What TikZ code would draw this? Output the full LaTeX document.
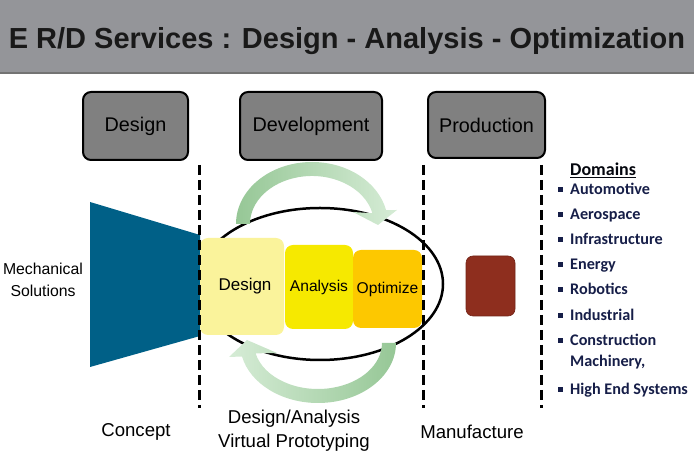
\documentclass[tikz,border=0pt]{standalone}
\usepackage{fontspec}
\setmainfont{Liberation Sans}
\newfontfamily\domfont{Carlito}
\usetikzlibrary{positioning}

\definecolor{barGray}{RGB}{148,149,153}
\definecolor{boxGray}{RGB}{128,128,128}
\definecolor{funnelBlue}{RGB}{0,96,135}
\definecolor{designYel}{RGB}{250,243,155}
\definecolor{analysisYel}{RGB}{246,233,0}
\definecolor{optimOrange}{RGB}{253,200,0}
\definecolor{mfgRed}{RGB}{142,46,30}
\definecolor{loopDark}{RGB}{150,199,150}
\definecolor{loopLight}{RGB}{214,236,214}
\definecolor{domNavy}{RGB}{22,30,72}

\tikzset{
  hdrbox/.style={draw=black, line width=2pt, fill=boxGray, rounded corners=8pt,
    minimum height=68pt, font=\fontsize{19.8}{22}\selectfont},
  stagebox/.style={rounded corners=8pt, inner sep=0pt},
  divider/.style={line width=3pt, dash pattern=on 10pt off 5pt},
  caption/.style={font=\fontsize{18.6}{24}\selectfont, align=center},
  domitem/.style={anchor=base west, inner sep=0pt, text=domNavy,
    font=\domfont\bfseries\fontsize{16.2}{18}\selectfont},
}

\begin{document}
\begin{tikzpicture}[x=1pt, y=1pt]
    \useasboundingbox (0,0) rectangle (694,463);

    % title bar
    \fill[barGray] (0,390) rectangle (694,463);
    \draw[black!55, line width=1.2pt] (0,390) -- (694,390);
    \node[font=\bfseries\fontsize{29}{34}\selectfont, text=black!90] (title) at (347,422)
        {E R/D Services : Design - Analysis - Optimization};

    % phase headers
    \node[hdrbox, minimum width=105pt] (hdrDesign) at (135.5,337) {Design};
    \node[hdrbox, minimum width=142pt] (hdrDevel) at (311,337) {Development};
    \node[hdrbox, minimum width=117pt, minimum height=66pt] (hdrProd) at (486.5,338) {Production};

    % development loop
    \draw[line width=2.5pt] (320,179) ellipse [x radius=123, y radius=76];
    \shade[left color=loopDark, right color=loopLight]
        (236,239) arc[start angle=180, end angle=13, x radius=76, y radius=62]
        -- (397,253) -- (378,238) -- (353,251) -- (372.4,249.8)
        arc[start angle=13, end angle=180, x radius=62, y radius=48] -- cycle;
    \shade[left color=loopLight, right color=loopDark]
        (396,120) arc[start angle=0, end angle=-167, x radius=78, y radius=60]
        -- (229,106) -- (247,123) -- (277,110) -- (255.6,109.65)
        arc[start angle=-167, end angle=0, x radius=64, y radius=46] -- cycle;

    % concept funnel
    \fill[funnelBlue] (90,261) -- (200,228) -- (200,127) -- (90,96) -- cycle;
    \node[font=\fontsize{15.8}{22}\selectfont, align=center] (mechSol) at (43,183)
        {Mechanical\\Solutions};

    % stages
    \node[stagebox, fill=designYel, minimum width=84pt, minimum height=97pt,
        font=\fontsize{17}{20}\selectfont] (stDesign) at (242,176.5) {\hspace{6pt}Design};
    \node[stagebox, fill=analysisYel, minimum width=68pt, minimum height=84pt,
        font=\fontsize{15.6}{18}\selectfont] (stAnalysis) at (319,176) {Analysis};
    \node[stagebox, fill=optimOrange, minimum width=69pt, minimum height=78pt,
        font=\fontsize{15.6}{18}\selectfont] (stOptim) at (387.5,174) {Optimize};

    % manufacture block
    \node[fill=mfgRed, draw=mfgRed!80!black, line width=0.6pt, rounded corners=7pt,
        minimum width=49pt, minimum height=60pt] (mfgBlock) at (490.5,177) {};

    % dividers
    \foreach \x in {199, 423, 541} {
        \draw[divider] (\x,298) -- (\x,55);
    }

    % captions
    \node[caption] (capConcept) at (136,31) {Concept};
    \node[caption] (capDevel) at (294,32) {Design/Analysis\\Virtual Prototyping};
    \node[caption] (capMfg) at (472,31) {Manufacture};

    % domains
    \node[domitem, text=black!80!domNavy, font=\domfont\bfseries\fontsize{18}{20}\selectfont]
        (domHead) at (570,287) {\underline{Domains}};
    \foreach \y/\t [count=\i] in {273/Automotive, 248/Aerospace, 223/Infrastructure,
        198/Energy, 173/Robotics, 147/Industrial, 122/Construction, 73/High End Systems} {
        \fill[domNavy] (558,\y-2) rectangle ++(5,5);
        \node[domitem] (dom\i) at (570,\y-5) {\t};
    }
    \node[domitem] (domMach) at (570,96) {Machinery,};
\end{tikzpicture}
\end{document}
